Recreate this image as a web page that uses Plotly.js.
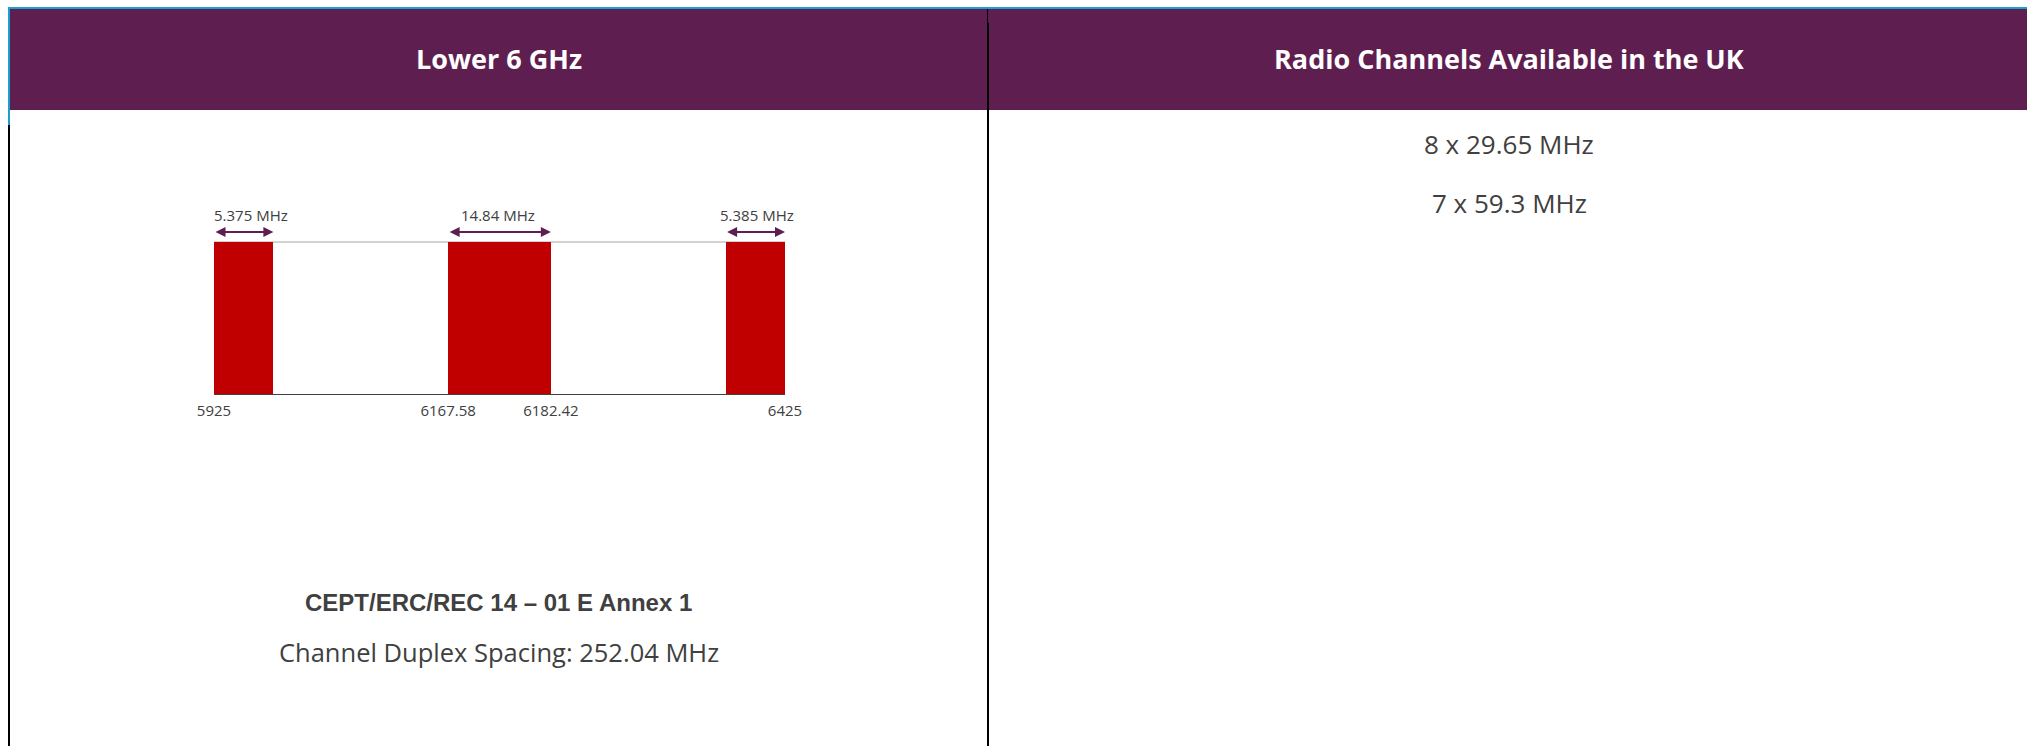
<!DOCTYPE html>
<html><head><meta charset="utf-8">
<script src="https://cdn.plot.ly/plotly-3.0.1.min.js"></script>
<style>html,body{margin:0;padding:0;background:#fff;overflow:hidden}#chart{width:2027px;height:746px}</style>
</head><body><div id="chart"></div>
<script>
// ---------- data ----------
const bandNames = ['Lower guard band', 'Centre gap', 'Upper guard band'];
const bandWidthLabels = ['5.375 MHz', '14.84 MHz', '5.385 MHz'];
const bandHeights = [1, 1, 1];
const edgeFreqs = [5925, 6167.58, 6182.42, 6425];
const edgeLabels = ['5925', '6167.58', '6182.42', '6425'];
const headerTitles = ['Lower 6 GHz', 'Radio Channels Available in the UK'];
const channelOptions = ['8 x 29.65 MHz', '7 x 59.3 MHz'];
const recommendation = 'CEPT/ERC/REC 14 \u2013 01 E Annex 1';
const duplexSpacing = 'Channel Duplex Spacing: 252.04 MHz';

// ---------- layout helpers ----------
const W = 2027, H = 746;
const px = v => v / W;
const py = v => 1 - v / H;

// the diagram is schematic (not to scale): drawn widths in axis units
const drawW = [52, 90, 52];
const mid = (edgeFreqs[1] + edgeFreqs[2]) / 2;
const bandStart = [edgeFreqs[0], mid - drawW[1] / 2, edgeFreqs[3] - drawW[2]];
const bandEnd = bandStart.map((s, i) => s + drawW[i]);
const bandCenter = bandStart.map((s, i) => s + drawW[i] / 2);
const tickPos = [edgeFreqs[0], bandStart[1], bandEnd[1], edgeFreqs[3]];
const labelShift = [7, -2, 2];

const axisBottomPx = 394, unitPx = 152, yMax = 1.3;
const arrowY = (axisBottomPx - 232) / unitPx;
const labelY = (axisBottomPx - 215) / unitPx;

const purple = '#5f1e50', cyan = '#1aa0d0', textGrey = '#404040';

const trace = {
  type: 'bar', x: bandCenter, y: bandHeights, width: drawW, name: '',
  text: bandNames, textposition: 'none',
  marker: {color: '#c00000', line: {width: 0}},
  hoverinfo: 'skip', showlegend: false
};

const shapes = [
  {type:'rect', xref:'paper', yref:'paper', x0:px(10), x1:1, y0:py(110), y1:py(9), fillcolor:purple, line:{width:0}},
  {type:'rect', xref:'paper', yref:'paper', x0:px(8), x1:1, y0:py(9), y1:py(7), fillcolor:cyan, line:{width:0}},
  {type:'rect', xref:'paper', yref:'paper', x0:px(8), x1:px(10), y0:py(125), y1:py(7), fillcolor:cyan, line:{width:0}},
  {type:'rect', xref:'paper', yref:'paper', x0:px(8), x1:px(10), y0:0, y1:py(125), fillcolor:'#000', line:{width:0}},
  {type:'line', xref:'paper', yref:'paper', x0:px(987.5), x1:px(987.5), y0:py(23), y1:py(9), line:{color:'#000', width:1}},
  {type:'rect', xref:'paper', yref:'paper', x0:px(987), x1:px(989), y0:0, y1:py(23), fillcolor:'#000', line:{width:0}},
  {type:'line', xref:'x', yref:'y', x0:edgeFreqs[0], x1:edgeFreqs[3], y0:1, y1:1, layer:'below', line:{color:'#a6a6a6', width:1}}
];

const annotations = [];
[[headerTitles[0], 498.5], [headerTitles[1], 1509]].forEach(([t, x]) => annotations.push({
  xref:'paper', yref:'paper', x:px(x), y:py(59), text:t, showarrow:false, xanchor:'center', yanchor:'middle',
  font:{family:'Open Sans', size:27, weight:700, color:'#ffffff'}
}));
channelOptions.forEach((t, i) => annotations.push({
  xref:'paper', yref:'paper', x:px(1509), y:py([144, 203][i]), text:t, showarrow:false, xanchor:'center', yanchor:'middle',
  font:{family:'Open Sans', size:26, color:textGrey}
}));
annotations.push({xref:'paper', yref:'paper', x:px(498.5), y:py(602), text:recommendation, showarrow:false,
  xanchor:'center', yanchor:'middle', font:{family:'Liberation Sans', size:24, weight:700, color:textGrey}});
annotations.push({xref:'paper', yref:'paper', x:px(498.5), y:py(652), text:duplexSpacing, showarrow:false,
  xanchor:'center', yanchor:'middle', font:{family:'Open Sans', size:25.5, color:textGrey}});
bandWidthLabels.forEach((t, i) => {
  annotations.push({xref:'x', yref:'y', x:bandCenter[i], y:labelY, xshift:labelShift[i], text:t, showarrow:false,
    xanchor:'center', yanchor:'middle', font:{family:'Open Sans', size:15, color:textGrey}});
  annotations.push({xref:'x', yref:'y', axref:'x', ayref:'y', x:bandEnd[i], y:arrowY, ax:bandStart[i], ay:arrowY, text:'',
    showarrow:true, arrowside:'end+start', arrowhead:2, startarrowhead:2, arrowsize:1, startarrowsize:1,
    arrowwidth:2, arrowcolor:purple, standoff:0, startstandoff:0});
});

const layout = {
  width: W, height: H, margin: {l:0, r:0, t:0, b:0}, paper_bgcolor:'#fff', plot_bgcolor:'rgba(0,0,0,0)',
  font: {family:'Open Sans', color:textGrey},
  xaxis: {domain:[px(214), px(785)], range:[edgeFreqs[0], edgeFreqs[3]], showgrid:false, zeroline:false,
    showline:true, linecolor:textGrey, linewidth:1, ticks:'', tickvals:tickPos, ticktext:edgeLabels,
    ticklabelstandoff:3,
    tickfont:{family:'Open Sans', size:15, color:textGrey}, layer:'below traces', fixedrange:true},
  yaxis: {domain:[py(axisBottomPx), py(axisBottomPx - yMax * unitPx)], range:[0, yMax], visible:false, fixedrange:true},
  shapes, annotations, showlegend:false, bargap:0
};

Plotly.newPlot('chart', [trace], layout, {displayModeBar:false, staticPlot:true});
</script></body></html>
